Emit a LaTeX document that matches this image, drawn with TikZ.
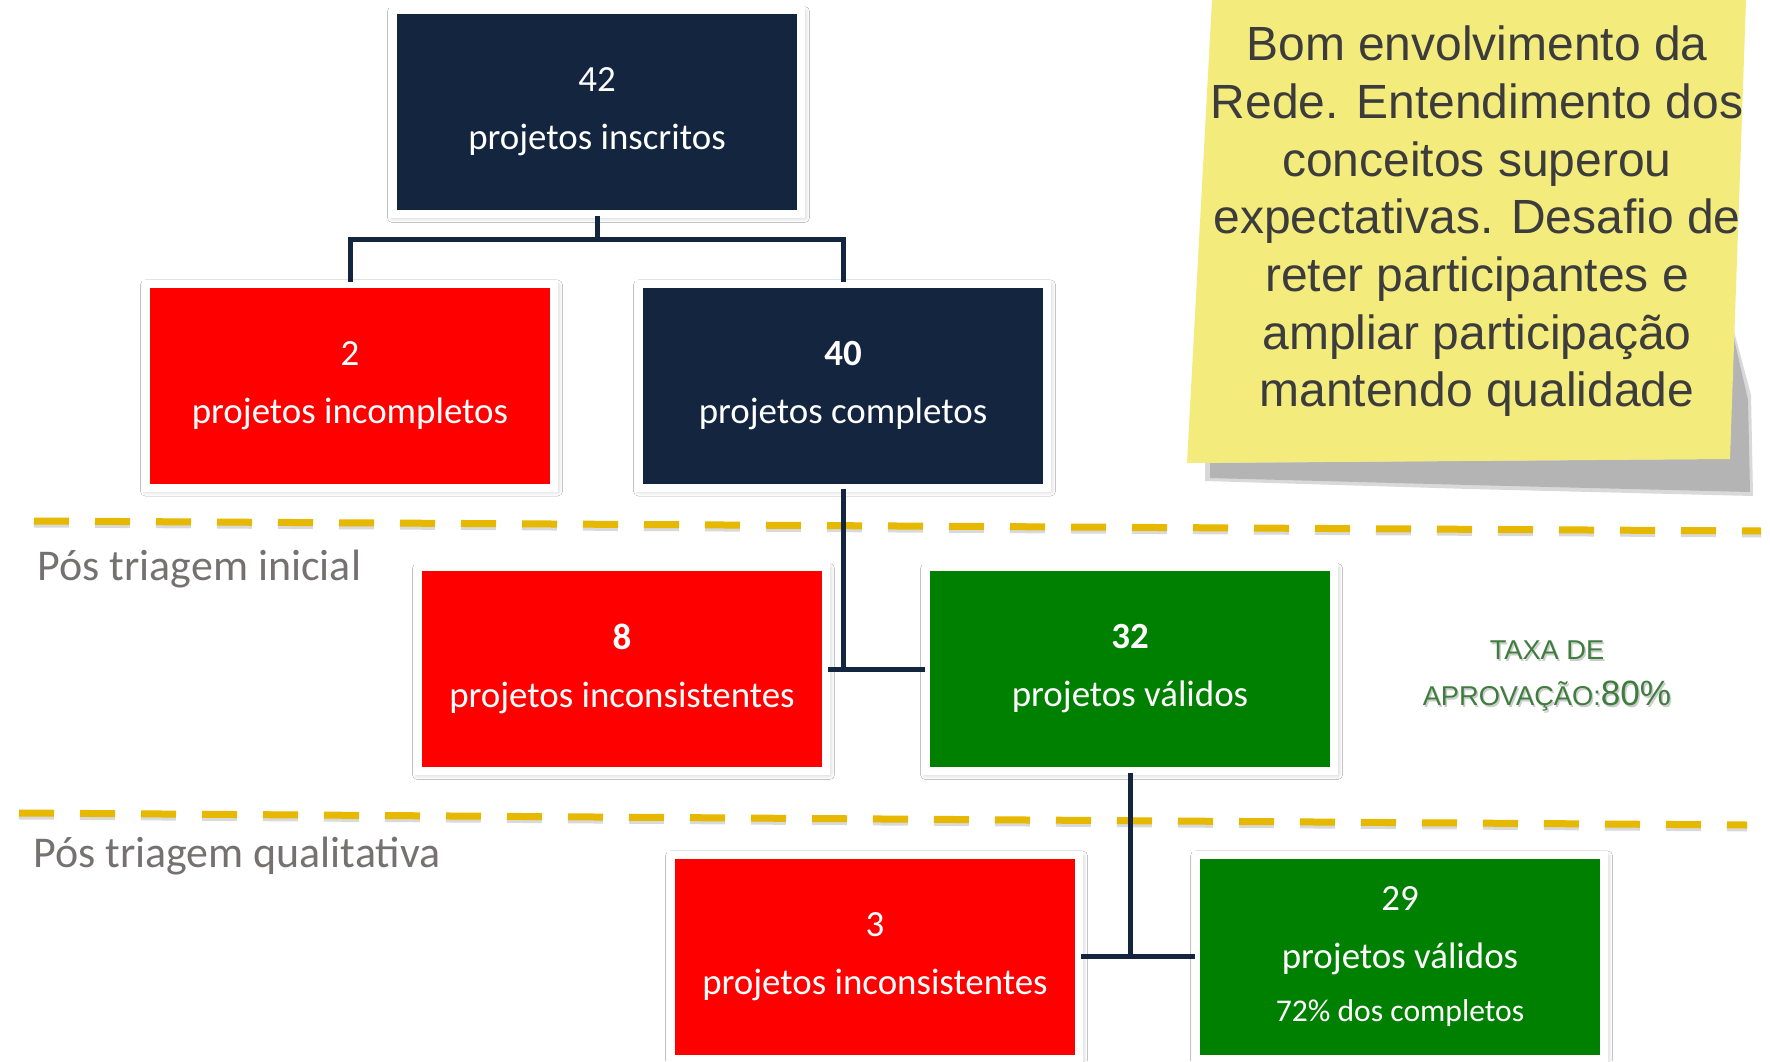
\documentclass[tikz,border=0pt]{standalone}
\usepackage{fontspec}
\setmainfont{Carlito}
\newfontfamily\notefont{Liberation Sans}
\usepackage{xcolor}
\definecolor{BoardNavy}{HTML}{14253F}
\definecolor{FailRed}{HTML}{FF0000}
\definecolor{PassGreen}{HTML}{008000}
\definecolor{CutYellow}{HTML}{E6B800}
\definecolor{LabelGray}{HTML}{767171}
\definecolor{NoteYellow}{HTML}{F3EB7C}
\definecolor{NoteShade}{HTML}{B4B4B4}
\definecolor{NoteInk}{HTML}{3C3C3C}
\definecolor{RateGreen}{HTML}{3E7D3E}
\usepackage{tikz}
\usetikzlibrary{positioning, shadows, shadows.blur}
\tikzset{
  countbox/.style={rectangle, draw=white, line width=0.16cm, minimum width=8.16cm, minimum height=4.08cm, inner sep=0pt, text=white, align=center, font=\fontsize{21}{33}\selectfont, blur shadow={shadow xshift=0.03cm, shadow yshift=-0.05cm, shadow scale=1.01, shadow blur radius=0.1cm, shadow opacity=25}},
  navybox/.style={countbox, fill=BoardNavy},
  failbox/.style={countbox, fill=FailRed},
  passbox/.style={countbox, fill=PassGreen},
  link/.style={draw=BoardNavy, line width=0.1cm, line cap=rect},
  cutline/.style={draw=CutYellow, line width=0.14cm, dash pattern=on 0.7cm off 0.52cm},
  cutshadow/.style={cutline, draw=black, opacity=0.15},
  phaselabel/.style={anchor=base west, text=LabelGray, font=\fontsize{25}{30}\selectfont},
  notetext/.style={text=NoteInk, align=center, font=\notefont\fontsize{27.3}{32.8}\selectfont},
  ratetext/.style={text=RateGreen, align=center, font=\notefont\fontsize{15.5}{26.7}\selectfont}
}

\begin{document}
\begin{tikzpicture}
  \useasboundingbox (0,0) rectangle (35.4,-21.22);
  \fill[white] (0,0) rectangle (35.4,-21.22);

  % sticky note
  \fill[NoteShade, opacity=0.5] (24.1,-9.2) -- (34.6,-9.1) -- (34.62,-6.4) -- (35.02,-7.9) -- (35.06,-9.92) -- (29.4,-9.78) -- (24.1,-9.62) -- cycle;
  \fill[NoteShade] (24.2,-9.26) -- (34.6,-9.18) -- (34.64,-6.6) -- (34.96,-8.0) -- (35.0,-9.84) -- (29.4,-9.70) -- (24.2,-9.56) -- cycle;
  \fill[NoteYellow] (24.24,0) -- (34.92,0) -- (34.60,-9.18) -- (23.74,-9.26) -- cycle;
  \node[notetext] (note) at (29.54,-4.43) {Bom envolvimento da\\Rede. Entendimento dos\\conceitos superou\\expectativas. Desafio de\\reter participantes e\\ampliar participação\\mantendo qualidade};

  % cut lines
  \coordinate (cut1a) at (0.68,-10.42);
  \coordinate (cut1b) at (35.22,-10.62);
  \coordinate (cut2a) at (0.38,-16.26);
  \coordinate (cut2b) at (34.94,-16.50);
  \draw[cutshadow] ([yshift=-0.06cm]cut1a) -- ([yshift=-0.06cm]cut1b);
  \draw[cutline] (cut1a) -- (cut1b);
  \draw[cutshadow] ([yshift=-0.06cm]cut2a) -- ([yshift=-0.06cm]cut2b);
  \draw[cutline] (cut2a) -- (cut2b);

  \node[phaselabel] (phase1) at (0.63,-11.60) {Pós triagem inicial};
  \node[phaselabel] (phase2) at (0.54,-17.34) {Pós triagem qualitativa};

  % boxes
  \node[navybox] (n42) at (11.94,-2.24) {42\\projetos inscritos};
  \node[failbox] (n2) at (7.00,-7.71) {2\\projetos incompletos};
  \node[navybox] (n40) at (16.86,-7.71) {\textbf{40}\\projetos completos};
  \node[failbox] (n8) at (12.44,-13.38) {\textbf{8}\\projetos inconsistentes};
  \node[passbox] (n32) at (22.60,-13.38) {\textbf{32}\\projetos válidos};
  \node[failbox] (n3) at (17.50,-19.13) {3\\projetos inconsistentes};
  \node[passbox] (n29) at (28.00,-19.13) {29\\projetos válidos\\[-3pt]{\fontsize{18}{28}\selectfont 72\% dos completos}};

  % connectors
  \draw[link] (n42.south) -- ++(0,-0.42) -| (n2.north);
  \draw[link] (n42.south) -- ++(0,-0.42) -| (n40.north);
  \draw[link] (n40.south) |- (n8.east);
  \draw[link] (n8.east) -- (n32.west);
  \draw[link] (n32.south) |- (n3.east);
  \draw[link] (n3.east) -- (n29.west);

  % rate
  \node[ratetext, text=black, opacity=0.2] (rateshadow) at (30.97,-13.56) {TAXA DE\\APROVAÇÃO:{\fontsize{20}{26.7}\selectfont 80\%}};
  \node[ratetext] (rate) at (30.94,-13.52) {TAXA DE\\APROVAÇÃO:{\fontsize{20}{26.7}\selectfont 80\%}};
\end{tikzpicture}
\end{document}
